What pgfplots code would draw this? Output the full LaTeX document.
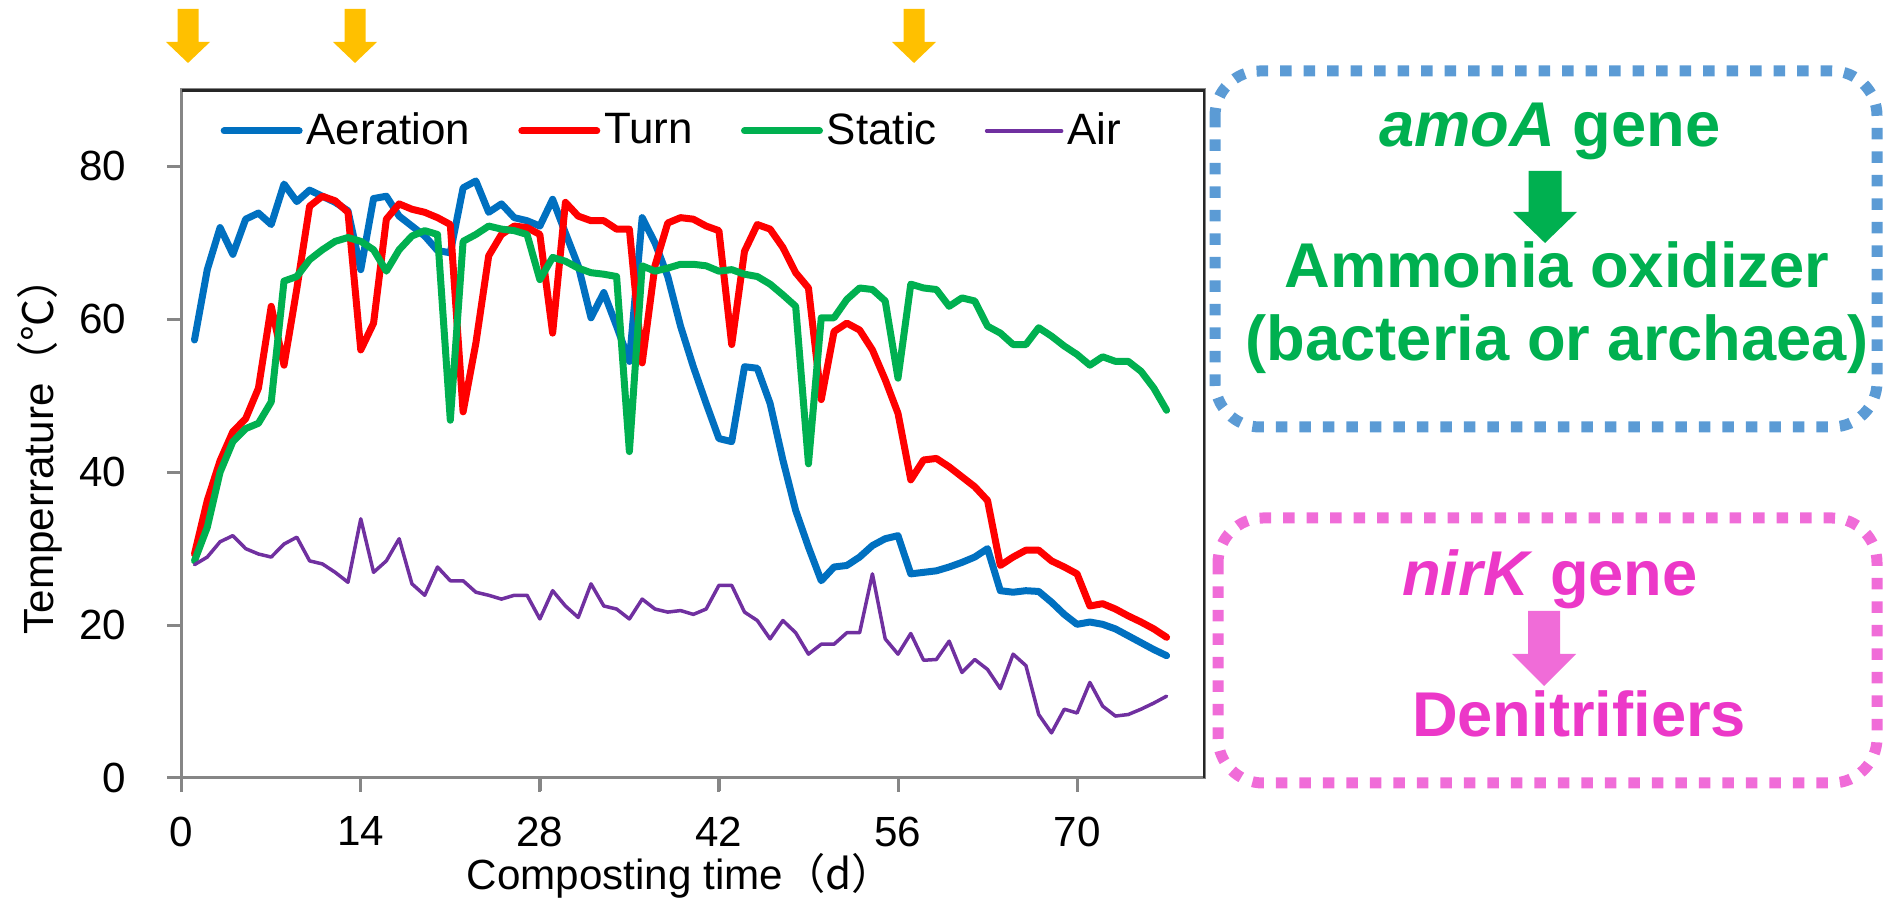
\documentclass[border=0pt]{standalone}
\usepackage{fontspec}
\setmainfont{Liberation Sans}
\newfontfamily\cjk{Noto Sans CJK SC}
\usepackage{pgfplots}
\usepackage{pgfplotstable}
\pgfplotsset{compat=1.18}
\definecolor{cAer}{HTML}{0070C0}
\definecolor{cTurn}{HTML}{FF0000}
\definecolor{cStat}{HTML}{00B050}
\definecolor{cAir}{HTML}{7030A0}
\definecolor{axgray}{HTML}{868686}
\definecolor{gold}{HTML}{FFC000}
\definecolor{boxblue}{HTML}{5B9BD5}
\definecolor{txtgreen}{HTML}{00B050}
\definecolor{boxpink}{HTML}{F06CD8}
\definecolor{txtpink}{HTML}{EC38C8}

% daily temperatures
\pgfplotstableread{
day aer turn stat air
1 57.3 29.3 28.4 27.9
2 66.5 36.3 32.8 28.9
3 72.0 41.5 40.0 30.9
4 68.5 45.3 44.0 31.7
5 73.1 47.0 45.7 30.0
6 73.9 51.0 46.4 29.3
7 72.4 61.7 49.2 28.9
8 77.7 54.0 65.0 30.6
9 75.4 64.0 65.6 31.5
10 76.9 74.8 67.8 28.4
11 76.1 76.1 69.1 28.0
12 75.3 75.5 70.2 26.9
13 74.2 74.0 70.7 25.6
14 66.5 56.0 70.2 33.9
15 75.8 59.5 69.1 26.9
16 76.1 73.1 66.3 28.4
17 73.5 75.1 69.1 31.3
18 72.2 74.4 70.9 25.4
19 70.9 74.0 71.6 23.9
20 69.0 73.3 71.1 27.6
21 68.7 72.4 46.8 25.8
22 77.2 47.9 70.2 25.8
23 78.1 56.9 71.1 24.3
24 74.0 68.3 72.2 23.9
25 75.1 71.1 71.8 23.4
26 73.3 72.2 71.6 23.9
27 72.9 72.0 71.1 23.9
28 72.2 71.1 65.2 20.8
29 75.7 58.2 68.1 24.5
30 71.3 75.3 67.6 22.5
31 67.0 73.5 66.7 21.0
32 60.2 72.9 66.1 25.4
33 63.5 72.9 65.9 22.5
34 59.1 71.8 65.6 22.1
35 54.5 71.8 42.7 20.8
36 73.3 54.3 67.0 23.4
37 70.0 67.0 66.3 22.1
38 65.6 72.6 66.7 21.7
39 59.1 73.3 67.2 21.9
40 53.8 73.1 67.2 21.4
41 49.0 72.2 67.0 22.1
42 44.4 71.6 66.3 25.2
43 44.0 56.7 66.5 25.2
44 53.8 68.9 65.9 21.7
45 53.6 72.4 65.6 20.6
46 49.0 71.8 64.6 18.2
47 41.6 69.4 63.2 20.6
48 35.0 66.1 61.7 19.0
49 30.2 64.1 41.1 16.2
50 25.8 49.5 60.2 17.5
51 27.6 58.4 60.2 17.5
52 27.8 59.5 62.6 19.0
53 28.9 58.6 64.1 19.0
54 30.4 56.0 63.9 26.7
55 31.3 52.1 62.4 18.2
56 31.7 47.7 52.3 16.2
57 26.7 39.0 64.6 18.9
58 26.9 41.6 64.1 15.4
59 27.1 41.8 63.9 15.5
60 27.6 40.7 61.7 17.9
61 28.2 39.4 62.8 13.8
62 28.9 38.1 62.4 15.5
63 30.0 36.3 59.1 14.2
64 24.5 27.8 58.2 11.7
65 24.3 28.9 56.7 16.2
66 24.5 29.8 56.7 14.7
67 24.4 29.8 58.9 8.3
68 23.0 28.4 57.8 5.9
69 21.4 27.6 56.5 9.0
70 20.1 26.7 55.4 8.5
71 20.4 22.5 54.0 12.5
72 20.1 22.8 55.1 9.4
73 19.5 22.1 54.5 8.1
74 18.6 21.2 54.5 8.3
75 17.7 20.4 53.2 9.0
76 16.8 19.5 51.0 9.8
77 16.0 18.4 48.1 10.7
}\temps

\begin{document}
\begin{tikzpicture}
\useasboundingbox (0,0) rectangle (189mm,89.9mm);
\begin{axis}[
  at={(18.17mm,12.1mm)}, anchor=south west,
  scale only axis, width=102.33mm, height=68.8mm,
  xmin=0, xmax=80, ymin=0, ymax=90,
  xtick={0,14,...,70}, ytick={0,20,...,80},
  xtick pos=left, ytick pos=left,
  axis line style={draw=axgray, line width=0.3mm},
  tick align=outside, major tick length=1.4mm,
  every tick/.style={draw=axgray, line width=0.3mm},
  tick label style={font=\fontsize{12}{14}\selectfont},
  /pgf/number format/assume math mode=true,
  yticklabel style={anchor=east, inner sep=0pt, xshift=-4.07mm},
  xticklabel style={anchor=north, inner sep=0pt, yshift=-2.4mm},
  legend columns=4,
  legend style={at={(0.0374,0.9404)}, anchor=west, draw=none, fill=none,
    inner sep=0pt, font=\fontsize{12.5}{14}\selectfont,
    nodes={inner xsep=0.4mm, inner ysep=0pt},
    /tikz/every even column/.append style={column sep=4.4mm}},
  legend image code/.code={\draw[#1] (0mm,0mm) -- (7.5mm,0mm);},
  every axis plot/.append style={line join=round, line cap=round},
]
\addplot[cAer, line width=0.7mm] table[x=day, y=aer] {\temps};
\addlegendentry{Aeration}
\addplot[cTurn, line width=0.7mm] table[x=day, y=turn] {\temps};
\addlegendentry{Turn}
\addplot[cStat, line width=0.7mm] table[x=day, y=stat] {\temps};
\addlegendentry{Static}
\addplot[cAir, line width=0.35mm] table[x=day, y=air] {\temps};
\addlegendentry{Air}
\draw[black!85, line width=0.35mm] (rel axis cs:0,1) -- (rel axis cs:1,1) -- (rel axis cs:1,0);
\end{axis}

% annotations in image pixel coordinates (1 px = 0.1 mm, y downwards)
\begin{scope}[x=0.1mm, y=-0.1mm, shift={(0mm,89.9mm)}]
  % tick marks outside the box
  \foreach \ty in {778,625.1,472.2,319.3,166.4}
    \draw[axgray, line width=0.3mm] (181.7,\ty) -- (167,\ty);
  \foreach \tx in {181.7,360.8,540.0,719.1,898.2,1077.4}
    \draw[axgray, line width=0.3mm] (\tx,778) -- (\tx,791);
  % axis titles
  \node[rotate=90, anchor=base west, inner sep=0pt, font=\fontsize{12}{14}\selectfont]
    at (53,635) {Temperrature{\cjk （℃）}};
  \node[anchor=base west, inner sep=0pt, font=\fontsize{12}{14}\selectfont]
    at (466,890) {Composting time{\cjk （d）}};
  % sampling arrows
  \foreach \cx in {188,355,914}
    \fill[gold] (\cx-10.5,9) -- (\cx+10.5,9) -- (\cx+10.5,42) -- (\cx+22,42)
      -- (\cx,63) -- (\cx-22,42) -- (\cx-10.5,42) -- cycle;
  % amoA box
  \draw[boxblue, line width=1.1mm, dash pattern=on 1.15mm off 1.2mm, rounded corners=4.5mm]
    (1215,71) rectangle (1877,427);
  \node[anchor=base, inner sep=0pt, txtgreen, font=\fontsize{18}{21}\selectfont\bfseries]
    at (1550,147) {\textit{amoA} gene};
  \fill[txtgreen] (1528.5,171) -- (1561.5,171) -- (1561.5,212) -- (1577,212)
    -- (1545,243) -- (1513,212) -- (1528.5,212) -- cycle;
  \node[anchor=base, inner sep=0pt, txtgreen, font=\fontsize{18}{21}\selectfont\bfseries]
    at (1557,288) {Ammonia oxidizer};
  \node[anchor=base, inner sep=0pt, txtgreen, font=\fontsize{18}{21}\selectfont\bfseries]
    at (1557,361) {(bacteria or archaea)};
  % nirK box
  \draw[boxpink, line width=1.1mm, dash pattern=on 1.15mm off 1.2mm, rounded corners=4.5mm]
    (1218,518) rectangle (1877,783);
  \node[anchor=base, inner sep=0pt, txtpink, font=\fontsize{18}{21}\selectfont\bfseries]
    at (1550,596) {\textit{nirK} gene};
  \fill[boxpink] (1528,611) -- (1560,611) -- (1560,654) -- (1576,654)
    -- (1544,686) -- (1512,654) -- (1528,654) -- cycle;
  \node[anchor=base, inner sep=0pt, txtpink, font=\fontsize{18}{21}\selectfont\bfseries]
    at (1579,737) {Denitrifiers};
\end{scope}
\end{tikzpicture}
\end{document}
